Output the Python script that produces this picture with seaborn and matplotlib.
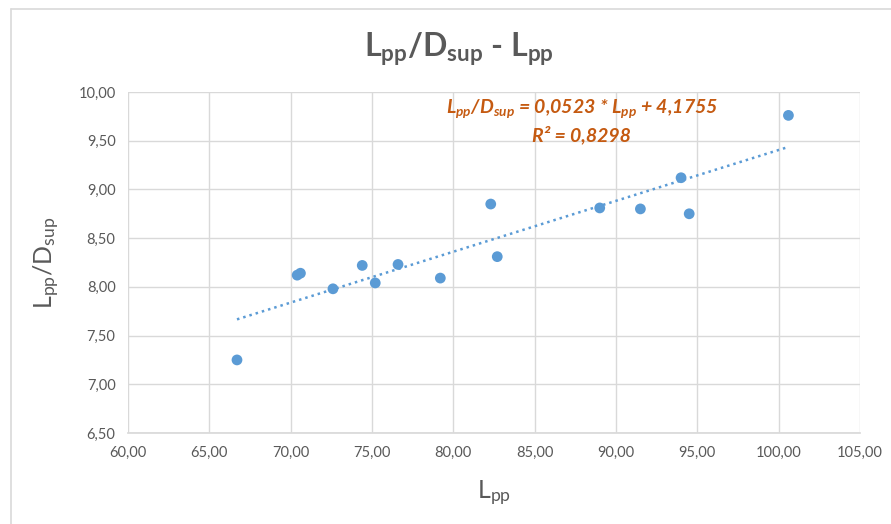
import numpy as np
import pandas as pd
import matplotlib
matplotlib.use("Agg")
import matplotlib.pyplot as plt
from matplotlib.lines import Line2D
import seaborn as sns

# data
lpp = [66.7, 70.4, 70.6, 72.6, 74.4, 75.2, 76.6, 79.2, 82.3, 82.7, 89.0, 91.5, 94.0, 94.5, 100.6]
lpp_dsup = [7.25, 8.12, 8.14, 7.98, 8.22, 8.04, 8.23, 8.09, 8.85, 8.31, 8.81, 8.80, 9.12, 8.75, 9.76]
x_ticks = [60, 65, 70, 75, 80, 85, 90, 95, 100, 105]
y_ticks = [6.5, 7.0, 7.5, 8.0, 8.5, 9.0, 9.5, 10.0]
eq_text = r"L$_{pp}$/D$_{sup}$ = 0,0523 * L$_{pp}$ + 4,1755"
r2_text = "R² = 0,8298"

df = pd.DataFrame({"Lpp": lpp, "LppDsup": lpp_dsup})

sns.set_theme(style="whitegrid")
plt.rcParams['font.family'] = ['Lato', 'DejaVu Sans']
plt.rcParams['mathtext.fontset'] = 'custom'
plt.rcParams['mathtext.rm'] = 'Lato'
plt.rcParams['mathtext.it'] = 'Lato:italic:bold'
plt.rcParams['mathtext.bf'] = 'Lato:bold'

grey = "#595959"
blue = "#5B9BD5"
orange = "#C55A11"

fig = plt.figure(figsize=(8.91, 5.24), dpi=100)
ax = fig.add_axes([128/891, 1-433/524, (860-128)/891, (433-92)/524])

sns.scatterplot(data=df, x="Lpp", y="LppDsup", ax=ax, color=blue, s=60,
                edgecolor="none", zorder=3)

# linear trendline
k, b = np.polyfit(df["Lpp"], df["LppDsup"], 1)
xs = np.array([df["Lpp"].min(), df["Lpp"].max()])
ax.plot(xs, k*xs + b, linestyle=(0, (1, 1.6)), color=blue, linewidth=1.8, zorder=2)

ax.set_xlim(60, 105)
ax.set_ylim(6.5, 10)
ax.set_xticks(x_ticks)
ax.set_yticks(y_ticks)
ax.set_xticklabels([f"{v:.2f}".replace(".", ",") for v in x_ticks])
ax.set_yticklabels([f"{v:.2f}".replace(".", ",") for v in y_ticks])
ax.tick_params(colors=grey, labelsize=10.5, length=0, pad=9)
ax.grid(True, color="#D9D9D9", linewidth=1)
for s in ax.spines.values():
    s.set_visible(False)
ax.spines['bottom'].set_visible(True)
ax.spines['bottom'].set_color("#D9D9D9")

ax.set_xlabel(r"L$_{\mathrm{pp}}$", fontsize=18, color=grey, labelpad=14)
ax.set_ylabel(r"L$_{\mathrm{pp}}$/D$_{\mathrm{sup}}$", fontsize=18, color=grey, labelpad=12)

fig.text(459/891, 1-49/524, r"$\mathbf{L_{pp}/D_{sup}}$ - $\mathbf{L_{pp}}$",
         ha="center", va="center", fontsize=23, color=grey, fontweight="bold")

ax.text(87.9, 9.83, eq_text, ha="center", va="center", fontsize=14, color=orange,
        fontweight="bold", style="italic")
ax.text(87.9, 9.56, r2_text, ha="center", va="center", fontsize=14, color=orange,
        fontweight="bold", style="italic")

# outer chart frame
fig.add_artist(Line2D([11/891, 11/891], [0, 1-9/524], color="#D9D9D9", linewidth=1.2))
fig.add_artist(Line2D([11/891, 1], [1-9/524, 1-9/524], color="#D9D9D9", linewidth=1.2))

fig.savefig("out.png", dpi=100)
